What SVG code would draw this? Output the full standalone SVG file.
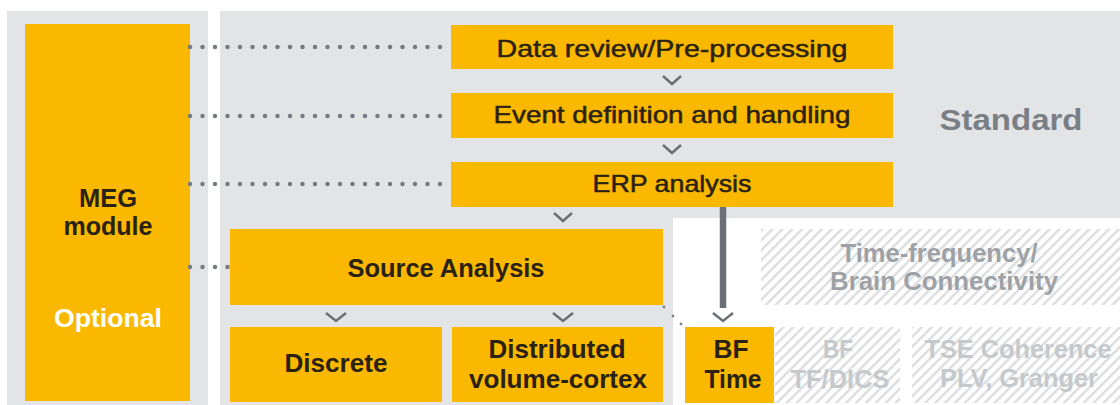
<svg xmlns="http://www.w3.org/2000/svg" width="1120" height="405" viewBox="0 0 1120 405">
<defs>
<pattern id="hatch" patternUnits="userSpaceOnUse" width="7" height="7" patternTransform="rotate(45)">
<rect width="7" height="7" fill="#ffffff"/>
<rect x="0" y="0" width="2.4" height="7" fill="#dcdddf"/>
</pattern>
<style>
.panel{fill:#e3e4e6}
.box{fill:#fab800}
.hatch{fill:url(#hatch)}
.t{font-family:"Liberation Sans",Arial,sans-serif;font-weight:bold;font-size:25px;fill:#2a2214;text-anchor:middle}
.top{font-size:24px;font-weight:normal;stroke:#2a2214;stroke-width:0.5}
.dim{fill:#9c a0a4;fill:#9ea2a6}
.faint{fill:#c6c9cc}
.white{fill:#ffffff}
.dots{stroke:#767b82;stroke-width:4.5;stroke-linecap:round;stroke-dasharray:0 12.5;fill:none}
.chev{stroke:#6b7076;stroke-width:2.5;fill:none}
</style>
</defs>
<rect class="panel" x="7" y="11" width="201" height="394"/>
<rect class="panel" x="220" y="11" width="900" height="394"/>
<rect x="673" y="218" width="447" height="187" fill="#ffffff"/>

<g id="meg">
<rect class="box" x="25" y="24" width="165" height="377"/>
<text class="t" x="108" y="207" textLength="58" lengthAdjust="spacingAndGlyphs">MEG</text>
<text class="t" x="108" y="235" textLength="89" lengthAdjust="spacingAndGlyphs">module</text>
<text class="t white" x="108" y="327" textLength="108" lengthAdjust="spacingAndGlyphs">Optional</text>
</g>

<g id="standard-label">
<text x="1011" y="130" textLength="143" lengthAdjust="spacingAndGlyphs" style="font-family:'Liberation Sans',Arial,sans-serif;font-weight:bold;font-size:29px;fill:#7a7f85;text-anchor:middle">Standard</text>
</g>

<g id="data-review">
<rect class="box" x="451" y="25" width="442" height="44"/>
<text class="t top" x="672" y="57" textLength="351" lengthAdjust="spacingAndGlyphs">Data review/Pre-processing</text>
</g>
<g id="event-def">
<rect class="box" x="451" y="93" width="442" height="45"/>
<text class="t top" x="672" y="123" textLength="357" lengthAdjust="spacingAndGlyphs">Event definition and handling</text>
</g>
<g id="erp">
<rect class="box" x="451" y="162" width="442" height="45"/>
<text class="t top" x="672" y="192" textLength="159" lengthAdjust="spacingAndGlyphs">ERP analysis</text>
</g>
<g id="source">
<rect class="box" x="230" y="229" width="433" height="76"/>
<text class="t" x="446" y="277" textLength="197" lengthAdjust="spacingAndGlyphs">Source Analysis</text>
</g>
<g id="discrete">
<rect class="box" x="230" y="327" width="212" height="75"/>
<text class="t" x="336" y="372" textLength="103" lengthAdjust="spacingAndGlyphs">Discrete</text>
</g>
<g id="distributed">
<rect class="box" x="452" y="327" width="211" height="75"/>
<text class="t" x="557" y="358" textLength="137" lengthAdjust="spacingAndGlyphs">Distributed</text>
<text class="t" x="558" y="388" textLength="178" lengthAdjust="spacingAndGlyphs">volume-cortex</text>
</g>
<g id="bf-time">
<rect class="box" x="685" y="327" width="89" height="76"/>
<text class="t" x="731" y="358" textLength="35" lengthAdjust="spacingAndGlyphs">BF</text>
<text class="t" x="733" y="388" textLength="57" lengthAdjust="spacingAndGlyphs">Time</text>
</g>
<g id="time-frequency">
<rect class="hatch" x="761" y="229" width="359" height="76"/>
<text class="t dim" x="939" y="262" textLength="197" lengthAdjust="spacingAndGlyphs">Time-frequency/</text>
<text class="t dim" x="944" y="290" textLength="228" lengthAdjust="spacingAndGlyphs">Brain Connectivity</text>
</g>
<g id="bf-tf">
<rect class="hatch" x="775" y="327" width="125" height="76"/>
<text class="t faint" x="838" y="358" textLength="30" lengthAdjust="spacingAndGlyphs">BF</text>
<text class="t faint" x="840" y="388" textLength="99" lengthAdjust="spacingAndGlyphs">TF/DICS</text>
</g>
<g id="tse">
<rect class="hatch" x="912" y="327" width="208" height="76"/>
<text class="t faint" x="1018" y="358" textLength="187" lengthAdjust="spacingAndGlyphs">TSE Coherence</text>
<text class="t faint" x="1019" y="387" textLength="158" lengthAdjust="spacingAndGlyphs">PLV, Granger</text>
</g>

<g id="connectors">
<line class="dots" x1="190" y1="47" x2="450" y2="47"/>
<line class="dots" x1="190" y1="116" x2="450" y2="116"/>
<line class="dots" x1="190" y1="184" x2="450" y2="184"/>
<line class="dots" x1="190" y1="267" x2="229" y2="267"/>
<polyline class="chev" points="663,76 672,84 681,76"/>
<polyline class="chev" points="663,145 672,153 681,145"/>
<polyline class="chev" points="554,213 563,221 572,213"/>
<polyline class="chev" points="326,313 336,321 346,313"/>
<polyline class="chev" points="553,313 563,321 573,313"/>
<line x1="723" y1="207" x2="723" y2="308" stroke="#6b7076" stroke-width="6.5"/>
<polyline class="chev" points="713,313 723,321 733,313"/>
<circle cx="664" cy="307" r="1.4" fill="#7d8288"/>
<circle cx="673" cy="316" r="1.4" fill="#7d8288"/>
<circle cx="681" cy="324" r="1.4" fill="#7d8288"/>
</g>
</svg>
